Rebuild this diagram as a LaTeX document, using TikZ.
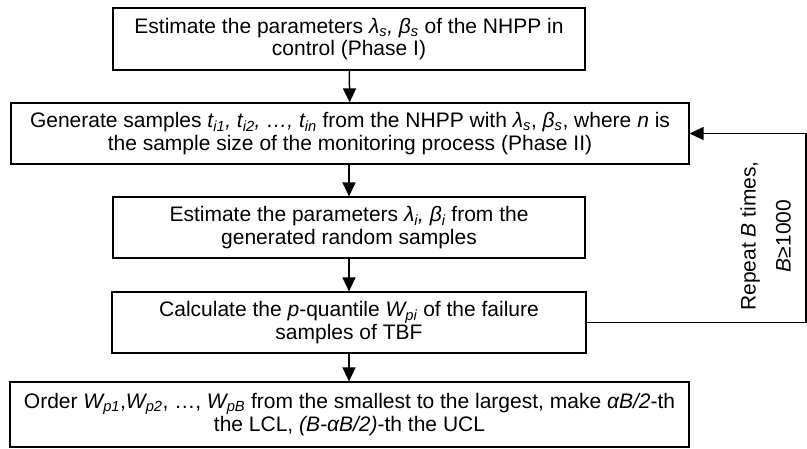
\documentclass[tikz,border=0pt]{standalone}
\usepackage{fontspec}
\setmainfont{Liberation Sans}
\usetikzlibrary{arrows.meta}
\newcommand\lo[1]{\textsubscript{#1}}
\begin{document}
\begin{tikzpicture}[x=1pt,y=1pt,
  stage/.style={draw, line width=1.2pt, minimum height=61pt, inner sep=0pt,
    align=center, font=\fontsize{21}{22.5}\selectfont},
  flow/.style={line width=1.5pt, -{Triangle[length=14pt,width=13pt]}}]
\useasboundingbox (0,0) rectangle (807,-448);

% process steps
\node[stage, minimum width=472pt, minimum height=62pt] (s1) at (349,-39)
  {Estimate the parameters \textit{λ\lo{s}, β\lo{s}} of the NHPP in\\control (Phase I)};
\node[stage, minimum width=678pt] (s2) at (350,-133.5)
  {Generate samples \textit{t\lo{i1}, t\lo{i2}, …, t\lo{in}} from the NHPP with \textit{λ\lo{s}}, \textit{β\lo{s}}, where \textit{n} is\\the sample size of the monitoring process (Phase II)};
\node[stage, minimum width=472pt] (s3) at (349,-227.5)
  {Estimate the parameters \textit{λ\lo{i}, β\lo{i}} from the\\generated random samples};
\node[stage, minimum width=474pt] (s4) at (349,-322.5)
  {Calculate the \textit{p}-quantile \textit{W\lo{pi}} of the failure\\samples of TBF};
\node[stage, minimum width=679pt, minimum height=65pt] (s5) at (349.5,-414.5)
  {Order \textit{W\lo{p1}},\textit{W\lo{p2}}, …, \textit{W\lo{pB}} from the smallest to the largest, make \textit{αB/2}-th\\the LCL, \textit{(B-αB/2)}-th the UCL};

% loop label
\node[rotate=90, align=center, inner sep=0pt, font=\fontsize{21}{35}\selectfont] (rep) at (765.5,-236)
  {Repeat \textit{B} times,\\\textit{B}≥1000};

% connectors
\coordinate (r) at (806,-322.5);
\draw[flow] (s1) -- (s2);
\draw[flow] (s2.south -| s3.north) -- (s3.north);
\draw[flow] (s3) -- (s4);
\draw[flow] (s4) -- (s5.north -| s4.south);
\draw[flow] (s4.east) -- (r) |- (s2.east);
\end{tikzpicture}
\end{document}
